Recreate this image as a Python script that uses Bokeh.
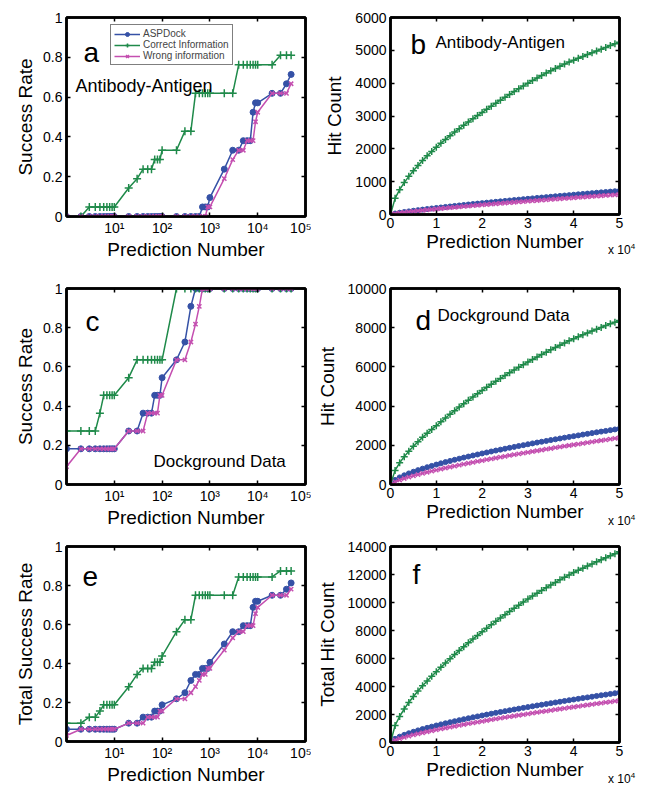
from bokeh.plotting import figure
from bokeh.models import CustomJSTickFormatter, FixedTicker, LinearAxis, Label, Div
from bokeh.layouts import column, row
from bokeh.embed import file_html
from bokeh.resources import INLINE

# ---------------- data ----------------
PRED_N = [1, 2, 3, 4, 5, 6, 7, 8, 9, 10,
          20, 30, 40, 50, 60, 70, 80, 90, 100,
          200, 300, 400, 500, 600, 700, 800, 900, 1000,
          2000, 3000, 4000, 5000, 6000, 7000, 8000, 9000, 10000,
          20000, 30000, 40000, 50000]

a_asp = [0, 0, 0, 0, 0, 0, 0, 0, 0, 0,
         0, 0, 0, 0, 0, 0, 0, 0, 0,
         0, 0, 0, 0, 0, 0.048, 0.048, 0.048, 0.095,
         0.238, 0.333, 0.333, 0.381, 0.381, 0.381, 0.524, 0.571, 0.571,
         0.619, 0.619, 0.667, 0.714]
a_cor = [0, 0, 0.048, 0.048, 0.048, 0.048, 0.048, 0.048, 0.048, 0.048,
         0.143, 0.190, 0.238, 0.238, 0.238, 0.286, 0.286, 0.286, 0.333,
         0.333, 0.429, 0.429, 0.619, 0.619, 0.619, 0.619, 0.619, 0.619,
         0.619, 0.619, 0.762, 0.762, 0.762, 0.762, 0.762, 0.762, 0.762,
         0.762, 0.810, 0.810, 0.810]
a_wrong = [0, 0, 0, 0, 0, 0, 0, 0, 0, 0,
           0, 0, 0, 0, 0, 0, 0, 0, 0,
           0, 0, 0, 0, 0, 0, 0, 0.048, 0.048,
           0.190, 0.286, 0.333, 0.333, 0.381, 0.381, 0.381, 0.476, 0.524,
           0.619, 0.619, 0.619, 0.667]

c_asp = [0.182, 0.182, 0.182, 0.182, 0.182, 0.182, 0.182, 0.182, 0.182, 0.182,
         0.273, 0.273, 0.364, 0.364, 0.364, 0.455, 0.455, 0.455, 0.545,
         0.636, 0.727, 0.909, 1, 1, 1, 1, 1, 1,
         1, 1, 1, 1, 1, 1, 1, 1, 1,
         1, 1, 1, 1]
c_cor = [0.273, 0.273, 0.273, 0.273, 0.364, 0.455, 0.455, 0.455, 0.455, 0.455,
         0.545, 0.636, 0.636, 0.636, 0.636, 0.636, 0.636, 0.636, 0.636,
         1, 1, 1, 1, 1, 1, 1, 1, 1,
         1, 1, 1, 1, 1, 1, 1, 1, 1,
         1, 1, 1, 1]
c_wrong = [0.091, 0.182, 0.182, 0.182, 0.182, 0.182, 0.182, 0.182, 0.182, 0.182,
           0.273, 0.273, 0.273, 0.364, 0.364, 0.364, 0.364, 0.455, 0.455,
           0.636, 0.636, 0.727, 0.818, 0.909, 1, 1, 1, 1,
           1, 1, 1, 1, 1, 1, 1, 1, 1,
           1, 1, 1, 1]

e_asp = [0.063, 0.063, 0.063, 0.063, 0.063, 0.063, 0.063, 0.063, 0.063, 0.063,
         0.094, 0.094, 0.125, 0.125, 0.125, 0.156, 0.156, 0.156, 0.188,
         0.219, 0.250, 0.313, 0.344, 0.344, 0.375, 0.375, 0.375, 0.406,
         0.500, 0.563, 0.563, 0.594, 0.594, 0.594, 0.688, 0.719, 0.719,
         0.750, 0.750, 0.781, 0.813]
e_cor = [0.094, 0.094, 0.125, 0.125, 0.156, 0.188, 0.188, 0.188, 0.188, 0.188,
         0.281, 0.344, 0.375, 0.375, 0.375, 0.406, 0.406, 0.406, 0.438,
         0.563, 0.625, 0.625, 0.750, 0.750, 0.750, 0.750, 0.750, 0.750,
         0.750, 0.750, 0.844, 0.844, 0.844, 0.844, 0.844, 0.844, 0.844,
         0.844, 0.875, 0.875, 0.875]
e_wrong = [0.031, 0.063, 0.063, 0.063, 0.063, 0.063, 0.063, 0.063, 0.063, 0.063,
           0.094, 0.094, 0.094, 0.125, 0.125, 0.125, 0.125, 0.156, 0.156,
           0.219, 0.219, 0.250, 0.281, 0.313, 0.344, 0.344, 0.375, 0.375,
           0.469, 0.531, 0.563, 0.563, 0.594, 0.594, 0.594, 0.656, 0.688,
           0.750, 0.750, 0.750, 0.781]

HIT_N = [0, 1000, 2000, 3000, 4000, 5000, 6000, 7000, 8000, 9000, 10000,
         11000, 12000, 13000, 14000, 15000, 16000, 17000, 18000, 19000, 20000,
         21000, 22000, 23000, 24000, 25000, 26000, 27000, 28000, 29000, 30000,
         31000, 32000, 33000, 34000, 35000, 36000, 37000, 38000, 39000, 40000,
         41000, 42000, 43000, 44000, 45000, 46000, 47000, 48000, 49000, 50000]

b_asp = [0, 31, 55, 76, 95, 114, 132, 149, 166, 183, 199,
         214, 230, 245, 260, 275, 289, 304, 318, 332, 346,
         360, 373, 387, 400, 413, 427, 440, 453, 466, 478,
         491, 504, 516, 529, 541, 554, 566, 578, 590, 602,
         614, 626, 638, 650, 662, 674, 685, 697, 708, 720]
b_cor = [0, 492, 757, 972, 1162, 1334, 1493, 1644, 1786, 1921, 2050,
         2171, 2287, 2400, 2509, 2615, 2718, 2819, 2917, 3013, 3108,
         3204, 3298, 3390, 3481, 3570, 3658, 3745, 3831, 3916, 4000,
         4080, 4158, 4234, 4308, 4379, 4448, 4515, 4580, 4642, 4700,
         4757, 4814, 4870, 4926, 4981, 5036, 5090, 5144, 5197, 5250]
b_wrong = [0, 27, 46, 64, 81, 97, 112, 127, 141, 155, 168,
           182, 195, 208, 220, 233, 245, 257, 269, 281, 293,
           305, 316, 328, 339, 350, 361, 373, 384, 394, 405,
           416, 427, 438, 448, 459, 469, 479, 490, 500, 510,
           520, 531, 541, 551, 561, 571, 581, 590, 600, 610]

d_asp = [0, 233, 363, 470, 565, 652, 733, 809, 881, 949, 1016,
         1080, 1142, 1202, 1260, 1317, 1373, 1426, 1480, 1531, 1584,
         1632, 1684, 1732, 1779, 1826, 1872, 1919, 1964, 2008, 2052,
         2096, 2140, 2181, 2223, 2266, 2305, 2347, 2389, 2428, 2467,
         2506, 2547, 2583, 2622, 2662, 2699, 2734, 2773, 2809, 2846]
d_cor = [0, 720, 1107, 1422, 1701, 1953, 2184, 2406, 2613, 2811, 3000,
         3198, 3392, 3582, 3768, 3949, 4126, 4299, 4468, 4635, 4800,
         4958, 5113, 5265, 5414, 5560, 5703, 5843, 5980, 6116, 6250,
         6378, 6504, 6628, 6750, 6870, 6988, 7104, 7218, 7330, 7440,
         7540, 7638, 7735, 7830, 7924, 8016, 8107, 8196, 8284, 8370]
d_wrong = [0, 137, 228, 306, 377, 444, 507, 568, 626, 682, 737,
           790, 842, 893, 942, 991, 1039, 1085, 1131, 1177, 1222,
           1266, 1311, 1353, 1396, 1439, 1481, 1521, 1563, 1603, 1643,
           1683, 1722, 1761, 1800, 1838, 1877, 1915, 1953, 1991, 2027,
           2064, 2101, 2137, 2174, 2209, 2245, 2281, 2315, 2350, 2386]

f_asp = [0, 264, 418, 546, 660, 766, 865, 958, 1047, 1132, 1215,
         1294, 1372, 1447, 1520, 1592, 1662, 1730, 1798, 1863, 1930,
         1992, 2057, 2119, 2179, 2239, 2299, 2359, 2417, 2474, 2530,
         2587, 2644, 2697, 2752, 2807, 2859, 2913, 2967, 3018, 3069,
         3120, 3173, 3221, 3272, 3324, 3373, 3419, 3470, 3517, 3566]
f_cor = [0, 1212, 1864, 2394, 2863, 3287, 3677, 4050, 4399, 4732, 5050,
         5369, 5679, 5982, 6277, 6564, 6844, 7118, 7385, 7648, 7908,
         8162, 8411, 8655, 8895, 9130, 9361, 9588, 9811, 10032, 10250,
         10458, 10662, 10862, 11058, 11249, 11436, 11619, 11798, 11972, 12140,
         12297, 12452, 12605, 12756, 12905, 13052, 13197, 13340, 13481, 13620]
f_wrong = [0, 164, 274, 370, 458, 541, 619, 695, 767, 837, 905,
           972, 1037, 1101, 1162, 1224, 1284, 1342, 1400, 1458, 1515,
           1571, 1627, 1681, 1735, 1789, 1842, 1894, 1947, 1997, 2048,
           2099, 2149, 2199, 2248, 2297, 2346, 2394, 2443, 2491, 2537,
           2584, 2632, 2678, 2725, 2770, 2816, 2862, 2905, 2950, 2996]

SERIES_NAMES = ["ASPDock", "Correct Information", "Wrong information"]
LOG_TICKS = [10, 100, 1000, 10000, 100000]
RATE_TICKS = [0, 0.2, 0.4, 0.6, 0.8, 1]
HIT_X_TICKS = [0, 10000, 20000, 30000, 40000, 50000]
MULT_HTML = "x 10<sup style='font-size:8px'>4</sup>"

# ---------------- style ----------------
FONT = "Liberation Sans"
BLUE = "#3551a6"
GREEN = "#1f8a4a"
MAGENTA = "#c44fb0"

LOG_CODE = """
const s = {1: "\\u00b9", 2: "\\u00b2", 3: "\\u00b3", 4: "\\u2074", 5: "\\u2075"};
return "10" + s[Math.round(Math.log10(tick))];
"""
RATE_CODE = """
if (Math.abs(tick) < 1e-9) return "0";
if (Math.abs(tick - 1) < 1e-9) return "1";
return tick.toFixed(1);
"""
HITX_CODE = "return (tick / 10000).toFixed(0);"
EMPTY_CODE = "return '';"


def style_axis(ax, tick_size="14px"):
    ax.axis_line_color = "black"
    ax.axis_line_width = 2.5
    ax.major_tick_in = 4
    ax.major_tick_out = 0
    ax.major_tick_line_color = "black"
    ax.major_tick_line_width = 1.5
    ax.minor_tick_line_color = None
    ax.major_label_text_font = FONT
    ax.major_label_text_font_size = tick_size
    ax.major_label_text_color = "black"
    ax.axis_label_text_font = FONT
    ax.axis_label_text_font_size = "19px"
    ax.axis_label_text_font_style = "normal"
    ax.axis_label_text_color = "black"


def make_fig(xlog, xr, yr, fw, fh, bl, br, bt, bb, xticks, yticks, xcode, ycode,
             xlabel, ylabel, ylab_standoff):
    p = figure(x_axis_type="log" if xlog else "linear", x_range=xr, y_range=yr,
               frame_width=fw, frame_height=fh, title=None,
               min_border_left=bl, min_border_right=br,
               min_border_top=bt, min_border_bottom=bb,
               output_backend="svg", toolbar_location=None)
    p.grid.visible = False
    p.outline_line_color = "black"
    p.outline_line_width = 2.5
    p.outline_line_alpha = 1
    p.background_fill_color = "white"
    p.border_fill_color = "white"

    xa = p.xaxis[0]
    ya = p.yaxis[0]
    xa.ticker = FixedTicker(ticks=xticks)
    ya.ticker = FixedTicker(ticks=yticks)
    xa.formatter = CustomJSTickFormatter(code=xcode)
    ya.formatter = CustomJSTickFormatter(code=ycode)
    style_axis(xa, "14px")
    style_axis(ya, "14px")
    xa.axis_label = xlabel
    ya.axis_label = ylabel
    xa.major_label_standoff = 3
    xa.axis_label_standoff = 0
    ya.major_label_standoff = 4
    ya.axis_label_standoff = ylab_standoff

    top = LinearAxis(ticker=FixedTicker(ticks=xticks),
                     formatter=CustomJSTickFormatter(code=EMPTY_CODE))
    style_axis(top)
    top.major_label_standoff = 0
    p.add_layout(top, "above")
    right = LinearAxis(ticker=FixedTicker(ticks=yticks),
                       formatter=CustomJSTickFormatter(code=EMPTY_CODE))
    style_axis(right)
    right.major_label_standoff = 0
    p.add_layout(right, "right")
    return p


def add_series(p, x, ys, sizes, legend=False):
    colors = [BLUE, GREEN, MAGENTA]
    markers = ["circle", "cross", "x"]
    for y, c, m, s, name in zip(ys, colors, markers, sizes, SERIES_NAMES):
        kw = {"legend_label": name} if legend else {}
        p.line(x, y, line_color=c, line_width=1.5, **kw)
        if m == "circle":
            p.scatter(x, y, marker=m, size=s, fill_color=c, line_color=c, **kw)
        else:
            p.scatter(x, y, marker=m, size=s, line_color=c, line_width=1.5, **kw)


def add_text(p, x, y, text, size):
    p.add_layout(Label(x=x, y=y, text=text, text_font=FONT, text_font_size=size,
                       text_color="black", text_align="left",
                       text_baseline="alphabetic"))


def mult_div(top_shift, left):
    # "x 10^4" axis multiplier, floated up into the row above (net height below zero)
    h = 14
    return Div(text=MULT_HTML, width=38, height=h,
               margin=(-top_shift, 0, top_shift - h - 2, left),
               styles={"font-family": FONT, "font-size": "12px", "line-height": "14px",
                       "color": "black", "white-space": "nowrap"})


# ---------------- panel a ----------------
pa = make_fig(True, (1, 100000), (0, 1), 239, 199, 66, 6, 15, 48,
              LOG_TICKS, RATE_TICKS, LOG_CODE, RATE_CODE,
              "Prediction Number", "Success Rate", 4)
add_series(pa, PRED_N, [a_asp, a_cor, a_wrong], [6, 8, 6], legend=True)
add_text(pa, 2.27, 0.824, "a", "28px")
add_text(pa, 1.54, 0.656, "Antibody-Antigen", "18px")
lg = pa.legend[0]
lg.location = (44, 151)
lg.label_text_font = FONT
lg.label_text_font_size = "10px"
lg.label_height = 10
lg.glyph_height = 10
lg.glyph_width = 26
lg.spacing = 0
lg.padding = 3
lg.margin = 0
lg.label_standoff = 3
lg.border_line_color = "black"
lg.border_line_width = 1
lg.background_fill_alpha = 1

# ---------------- panel b ----------------
pb = make_fig(False, (0, 50000), (0, 6000), 229, 197, 79, 29, 17, 48,
              HIT_X_TICKS, [0, 1000, 2000, 3000, 4000, 5000, 6000],
              HITX_CODE, "return tick.toFixed(0);",
              "Prediction Number", "Hit Count", 7)
add_series(pb, HIT_N, [b_asp, b_cor, b_wrong], [5, 7, 6])
add_text(pb, 4367, 5178, "b", "28px")
add_text(pb, 9825, 5248, "Antibody-Antigen", "17px")

# ---------------- panel c ----------------
pc = make_fig(True, (1, 100000), (0, 1), 239, 196, 66, 6, 27, 43,
              LOG_TICKS, RATE_TICKS, LOG_CODE, RATE_CODE,
              "Prediction Number", "Success Rate", 4)
add_series(pc, PRED_N, [c_asp, c_cor, c_wrong], [6, 8, 6])
add_text(pc, 2.50, 0.832, "c", "28px")
add_text(pc, 66.1, 0.116, "Dockground Data", "17px")

# ---------------- panel d ----------------
pd = make_fig(False, (0, 50000), (0, 10000), 229, 196, 79, 29, 28, 42,
              HIT_X_TICKS, [0, 2000, 4000, 6000, 8000, 10000],
              HITX_CODE, "return tick.toFixed(0);",
              "Prediction Number", "Hit Count", 7)
add_series(pd, HIT_N, [d_asp, d_cor, d_wrong], [5, 7, 6])
add_text(pd, 5459, 8367, "d", "28px")
add_text(pd, 10262, 8607, "Dockground Data", "17px")

# ---------------- panel e ----------------
pe = make_fig(True, (1, 100000), (0, 1), 239, 195, 66, 6, 19, 43,
              LOG_TICKS, RATE_TICKS, LOG_CODE, RATE_CODE,
              "Prediction Number", "Total Success Rate", 4)
add_series(pe, PRED_N, [e_asp, e_cor, e_wrong], [6, 8, 6])
add_text(pe, 2.16, 0.845, "e", "28px")

# ---------------- panel f ----------------
pf = make_fig(False, (0, 50000), (0, 14000), 229, 196, 79, 29, 19, 42,
              HIT_X_TICKS, [0, 2000, 4000, 6000, 8000, 10000, 12000, 14000],
              HITX_CODE, "return tick.toFixed(0);",
              "Prediction Number", "Total Hit Count", 7)
add_series(pf, HIT_N, [f_asp, f_cor, f_wrong], [5, 7, 6])
add_text(pf, 4803, 12000, "f", "28px")

layout = column(row(pa, pb), mult_div(22, 608),
                row(pc, pd), mult_div(18, 608),
                row(pe, pf), mult_div(18, 608))
open("out.html", "w", encoding="utf-8").write(file_html(layout, INLINE, title="ASPDock"))
